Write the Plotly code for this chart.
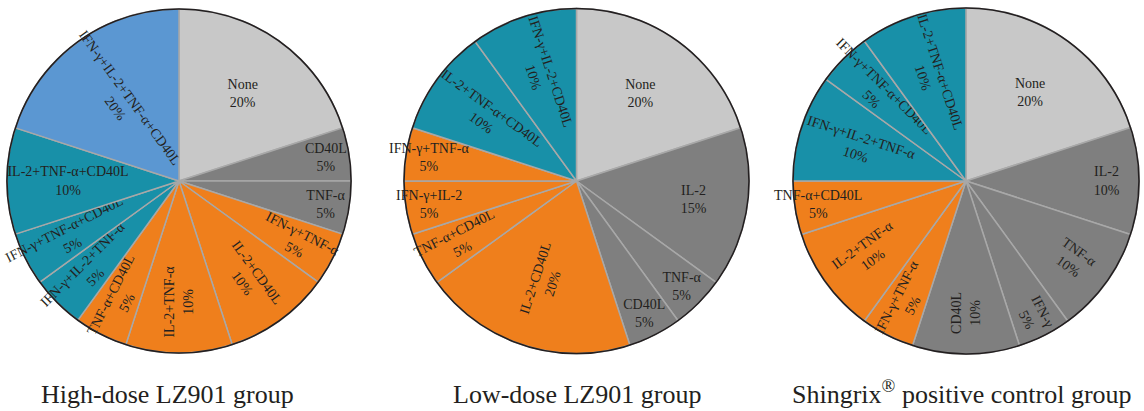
import plotly.graph_objects as go

# ── Data ────────────────────────────────────────────────────────────────────
high_labels = ["None", "CD40L", "TNF-α", "IFN-γ+TNF-α", "IL-2+CD40L", "IL-2+TNF-α",
               "TNF-α+CD40L", "IFN-γ+IL-2+TNF-α", "IFN-γ+TNF-α+CD40L",
               "IL-2+TNF-α+CD40L", "IFN-γ+IL-2+TNF-α+CD40L"]
high_values = [20, 5, 5, 5, 10, 10, 5, 5, 5, 10, 20]

low_labels = ["None", "IL-2", "TNF-α", "CD40L", "IL-2+CD40L", "TNF-α+CD40L",
              "IFN-γ+IL-2", "IFN-γ+TNF-α", "IL-2+TNF-α+CD40L", "IFN-γ+IL-2+CD40L"]
low_values = [20, 15, 5, 5, 20, 5, 5, 5, 10, 10]

shx_labels = ["None", "IL-2", "TNF-α", "IFN-γ", "CD40L", "IFN-γ+TNF-α", "IL-2+TNF-α",
              "TNF-α+CD40L", "IFN-γ+IL-2+TNF-α", "IFN-γ+TNF-α+CD40L", "IL-2+TNF-α+CD40L"]
shx_values = [20, 10, 10, 5, 10, 5, 10, 5, 10, 5, 10]

group_titles = ["High-dose LZ901 group", "Low-dose LZ901 group",
                "Shingrix<sup>®</sup> positive control group"]

# ── Style ───────────────────────────────────────────────────────────────────
LIGHT = "#c8c8c8"
GREY = "#7f7f7f"
ORANGE = "#ef7f1c"
TEAL = "#1890a8"
BLUE = "#5b97d2"
EDGE = "#a8a8a8"
INK = "#231f20"
FONT = "Liberation Serif"


def slice_color(label):
    if label == "None":
        return LIGHT
    n = label.count("+")
    return [GREY, ORANGE, TEAL, BLUE][n]


# which labels are written horizontally (the rest follow the radius)
high_flat = ["None", "CD40L", "TNF-α", "IL-2+TNF-α+CD40L"]
low_flat = ["None", "IL-2", "TNF-α", "CD40L", "IFN-γ+TNF-α", "IFN-γ+IL-2"]
shx_flat = ["None", "TNF-α+CD40L"]

W, H = 1144, 411
# pie centres / radius in pixels, plus caption centre
pies = [
    (high_labels, high_values, high_flat, 179, 181, 172, 167),
    (low_labels, low_values, low_flat, 576.5, 181, 172.5, 577),
    (shx_labels, shx_values, shx_flat, 966, 181, 173, 962),
]

fig = go.Figure()
tmpl = "%{label}<br>%{value}%"

for labels, values, flat, cx, cy, r, _ in pies:
    dom = dict(x=[(cx - r) / W, (cx + r) / W], y=[1 - (cy + r) / H, 1 - (cy - r) / H])
    common = dict(labels=labels, values=values, sort=False, direction="clockwise",
                  rotation=0, domain=dom, textposition="inside", showlegend=False,
                  textfont=dict(family=FONT, size=14, color=INK))
    # coloured slices, radial labels
    fig.add_trace(go.Pie(
        **common,
        marker=dict(colors=[slice_color(l) for l in labels],
                    line=dict(color=EDGE, width=1.5)),
        texttemplate=["" if l in flat else tmpl for l in labels],
        insidetextorientation="radial",
    ))
    # transparent copy carrying the horizontal labels
    fig.add_trace(go.Pie(
        **common,
        marker=dict(colors=["rgba(0,0,0,0)"] * len(labels), line=dict(width=0)),
        texttemplate=[tmpl if l in flat else "" for l in labels],
        insidetextorientation="horizontal",
        hoverinfo="skip",
    ))
    # black outer rim
    fig.add_trace(go.Pie(
        values=[1], labels=[""], domain=dom, sort=False, showlegend=False,
        marker=dict(colors=["rgba(0,0,0,0)"], line=dict(color=INK, width=1.6)),
        textinfo="none", hoverinfo="skip",
    ))

for (labels, values, flat, cx, cy, r, tx), title in zip(pies, group_titles):
    fig.add_annotation(text=title, x=tx / W, y=0, xref="paper", yref="paper",
                       xanchor="center", yanchor="bottom", showarrow=False,
                       font=dict(family=FONT, size=26, color=INK))

fig.update_layout(
    width=W, height=H,
    margin=dict(l=0, r=0, t=0, b=0),
    paper_bgcolor="white", plot_bgcolor="white",
    uniformtext=dict(minsize=14, mode="show"),
    font=dict(family=FONT, color=INK),
)

fig.write_html("out.html", config={"displayModeBar": False},
               post_script="document.body.style.margin='0';")
